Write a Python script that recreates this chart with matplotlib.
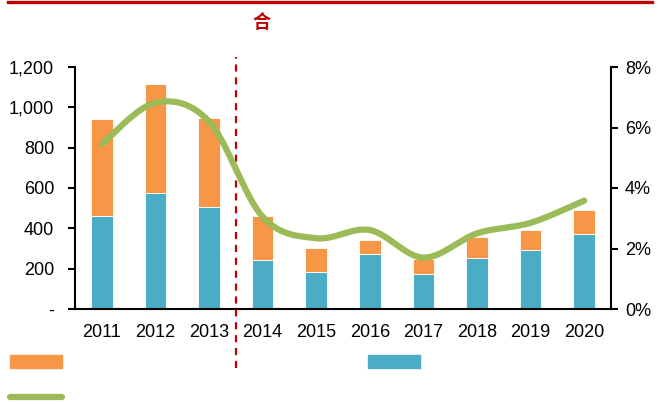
import numpy as np
import matplotlib.pyplot as plt
from matplotlib.patches import Rectangle
from matplotlib.lines import Line2D

plt.rcParams['font.family'] = ['Liberation Sans', 'DejaVu Sans']

# data
years = ['2011', '2012', '2013', '2014', '2015', '2016', '2017', '2018', '2019', '2020']
blue_vals = [463, 575, 504, 245, 185, 274, 172, 251, 293, 370]
totals = [941, 1116, 949, 460, 302, 341, 250, 359, 392, 489]
orange_vals = [t - b for t, b in zip(totals, blue_vals)]
ratio = [5.45, 6.82, 6.2, 3.05, 2.34, 2.61, 1.70, 2.50, 2.85, 3.58]

ORANGE = '#F79646'
BLUE = '#4BACC6'
GREEN = '#9BBB59'
RED = '#C00000'


def smooth(xs, ys, n=30):
    # catmull-rom, close to excel's smoothed line
    xs = np.asarray(xs, float)
    ys = np.asarray(ys, float)
    px = np.concatenate([[xs[0]], xs, [xs[-1]]])
    py = np.concatenate([[ys[0]], ys, [ys[-1]]])
    outx, outy = [], []
    t = np.linspace(0, 1, n)
    for i in range(1, len(px) - 2):
        for arr, out in ((px, outx), (py, outy)):
            p0, p1, p2, p3 = arr[i - 1], arr[i], arr[i + 1], arr[i + 2]
            out.extend(0.5 * (2 * p1 + (-p0 + p2) * t
                              + (2 * p0 - 5 * p1 + 4 * p2 - p3) * t ** 2
                              + (-p0 + 3 * p1 - 3 * p2 + p3) * t ** 3))
    return np.array(outx), np.array(outy)


fig = plt.figure(figsize=(6.6, 4.04), dpi=100)
ax = fig.add_axes([75 / 660, 95 / 404, 536 / 660, 242 / 404])
ax2 = ax.twinx()

x = np.arange(len(years))
ax.bar(x, blue_vals, width=0.4, color=BLUE, edgecolor='white', linewidth=0.6, zorder=2)
ax.bar(x, orange_vals, bottom=blue_vals, width=0.4, color=ORANGE, edgecolor='white',
       linewidth=0.6, zorder=2)

sx, sy = smooth(x, ratio)
ax2.plot(sx, sy, color=GREEN, linewidth=4.5, solid_capstyle='round', zorder=3)

ax.set_xlim(-0.5, len(years) - 0.5)
ax.set_ylim(0, 1200)
ax.set_yticks(range(0, 1201, 200))
ax.set_yticklabels(['-'] + [f'{v:,}' for v in range(200, 1201, 200)])
ax.set_xticks(x)
ax.set_xticklabels(years)

ax2.set_ylim(0, 8)
ax2.set_yticks(range(0, 9, 2))
ax2.set_yticklabels([f'{v}%' for v in range(0, 9, 2)])

for a in (ax, ax2):
    a.spines['top'].set_visible(False)
    for s in a.spines.values():
        s.set_linewidth(1.5)
        s.set_color('black')
ax.spines['right'].set_visible(False)
ax2.spines['left'].set_visible(False)
ax2.spines['bottom'].set_visible(False)

ax.tick_params(axis='y', direction='out', length=5, width=1.5, labelsize=13, pad=10)
ax.tick_params(axis='x', length=0, labelsize=13, pad=11)
ax2.tick_params(axis='y', direction='out', length=5, width=1.5, labelsize=13, pad=5)

# dashed divider between 2013 and 2014
ax.axvline(2.5, ymin=-0.244, ymax=1.041, color=RED, linewidth=1.6,
           linestyle=(0, (3.2, 2.6)), clip_on=False, zorder=4)

# red rule and title fragment at the top
fig.add_artist(Line2D([8 / 660, 652 / 660], [1 - 1.5 / 404, 1 - 1.5 / 404],
                      color=RED, linewidth=2.4))
fig.text(261 / 660, 1 - 22 / 404, '合', color=RED, fontsize=13, fontweight='bold',
         family=['Noto Sans CJK SC', 'DejaVu Sans'], ha='center', va='center')

# legend keys (the reference shows no label text)
fig.add_artist(Rectangle((10 / 660, 1 - 368 / 404), 52 / 660, 13 / 404, color=ORANGE))
fig.add_artist(Rectangle((368 / 660, 1 - 368 / 404), 52 / 660, 13 / 404, color=BLUE))
fig.add_artist(Line2D([10 / 660, 62 / 660], [1 - 397 / 404, 1 - 397 / 404],
                      color=GREEN, linewidth=4.5, solid_capstyle='round'))

fig.savefig('out.png', dpi=100)
